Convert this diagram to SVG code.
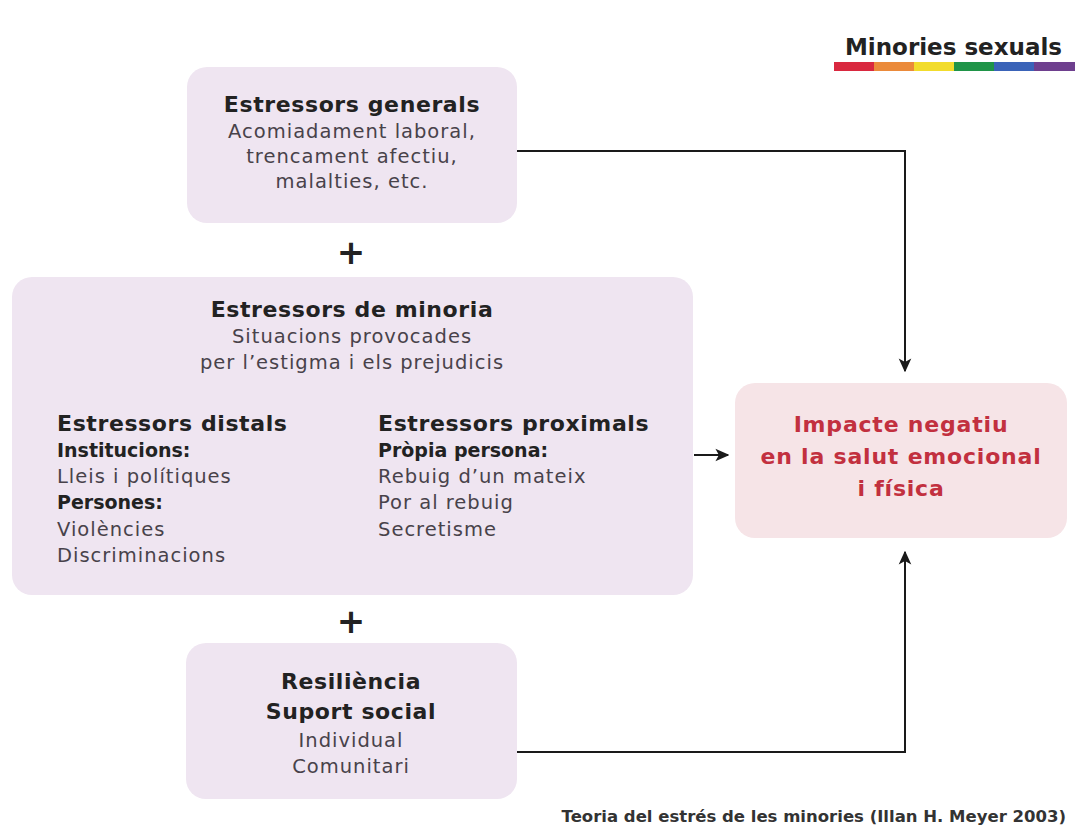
<svg xmlns="http://www.w3.org/2000/svg" width="1077" height="838" viewBox="0 0 1077 838">
<defs>
<marker id="ah" viewBox="0 0 10 10" refX="9" refY="5" markerWidth="14" markerHeight="14" markerUnits="userSpaceOnUse" orient="auto">
<path d="M0,0.5 L10,5 L0,9.5 L2.5,5 z" fill="#1a1a1a"/>
</marker>
<style>
.box{fill:#efe5f1}
.imp{fill:#f6e4e7}
.h{font-family:"DejaVu Sans","Liberation Sans",sans-serif;font-weight:700;font-size:22px;letter-spacing:0.6px;fill:#222}
.t{font-family:"DejaVu Sans","Liberation Sans",sans-serif;font-size:19.5px;letter-spacing:1px;fill:#48424a}
.b{font-family:"DejaVu Sans","Liberation Sans",sans-serif;font-weight:700;font-size:19px;fill:#222}
.r{font-family:"DejaVu Sans","Liberation Sans",sans-serif;font-weight:700;font-size:22px;letter-spacing:0.8px;fill:#c2303f}
.c{text-anchor:middle}
.ln{fill:none;stroke:#1a1a1a;stroke-width:2}
</style>
</defs>
<rect width="1077" height="838" fill="#ffffff"/>
<g id="legend">
<text class="h" x="1062" y="55" text-anchor="end" style="font-size:23px;letter-spacing:0">Minories sexuals</text>
<rect x="834" y="62" width="40" height="9" fill="#d9283f"/>
<rect x="874" y="62" width="40" height="9" fill="#eb8a3a"/>
<rect x="914" y="62" width="40" height="9" fill="#f2dc2c"/>
<rect x="954" y="62" width="40" height="9" fill="#1f9448"/>
<rect x="994" y="62" width="40" height="9" fill="#3a63b8"/>
<rect x="1034" y="62" width="41" height="9" fill="#6e3f8e"/>
</g>
<g id="connectors">
<polyline class="ln" points="517,151 905,151 905,371" marker-end="url(#ah)"/>
<polyline class="ln" points="517,752 905,752 905,552" marker-end="url(#ah)"/>
<line class="ln" x1="694" y1="455" x2="728" y2="455" marker-end="url(#ah)"/>
</g>
<g id="generals">
<rect class="box" x="187" y="67" width="330" height="156" rx="20"/>
<text class="h c" x="352" y="112">Estressors generals</text>
<text class="t c" x="352" y="138">Acomiadament laboral,</text>
<text class="t c" x="352" y="163">trencament afectiu,</text>
<text class="t c" x="352" y="188">malalties, etc.</text>
</g>
<g id="plus1"><text class="h c" x="351" y="264" style="font-size:34px;letter-spacing:0">+</text></g>
<g id="minoria">
<rect class="box" x="12" y="277" width="681" height="318" rx="20"/>
<text class="h c" x="352" y="317">Estressors de minoria</text>
<text class="t c" x="352" y="343">Situacions provocades</text>
<text class="t c" x="352" y="369">per l’estigma i els prejudicis</text>
<text class="h" x="57" y="431">Estressors distals</text>
<text class="b" x="57" y="457">Institucions:</text>
<text class="t" x="57" y="483">Lleis i polítiques</text>
<text class="b" x="57" y="509">Persones:</text>
<text class="t" x="57" y="536">Violències</text>
<text class="t" x="57" y="562">Discriminacions</text>
<text class="h" x="378" y="431">Estressors proximals</text>
<text class="b" x="378" y="457">Pròpia persona:</text>
<text class="t" x="378" y="483">Rebuig d’un mateix</text>
<text class="t" x="378" y="509">Por al rebuig</text>
<text class="t" x="378" y="536">Secretisme</text>
</g>
<g id="plus2"><text class="h c" x="351" y="633" style="font-size:34px;letter-spacing:0">+</text></g>
<g id="resiliencia">
<rect class="box" x="186" y="643" width="331" height="156" rx="20"/>
<text class="h c" x="351" y="689">Resiliència</text>
<text class="h c" x="351" y="719">Suport social</text>
<text class="t c" x="351" y="747">Individual</text>
<text class="t c" x="351" y="773">Comunitari</text>
</g>
<g id="impacte">
<rect class="imp" x="735" y="383" width="332" height="155" rx="20"/>
<text class="r c" x="901" y="432">Impacte negatiu</text>
<text class="r c" x="901" y="464">en la salut emocional</text>
<text class="r c" x="901" y="496">i física</text>
</g>
<g id="footer">
<text class="h" x="1066" y="822" text-anchor="end" style="font-size:16.5px;letter-spacing:0;fill:#333">Teoria del estrés de les minories (Illan H. Meyer 2003)</text>
</g>
</svg>
